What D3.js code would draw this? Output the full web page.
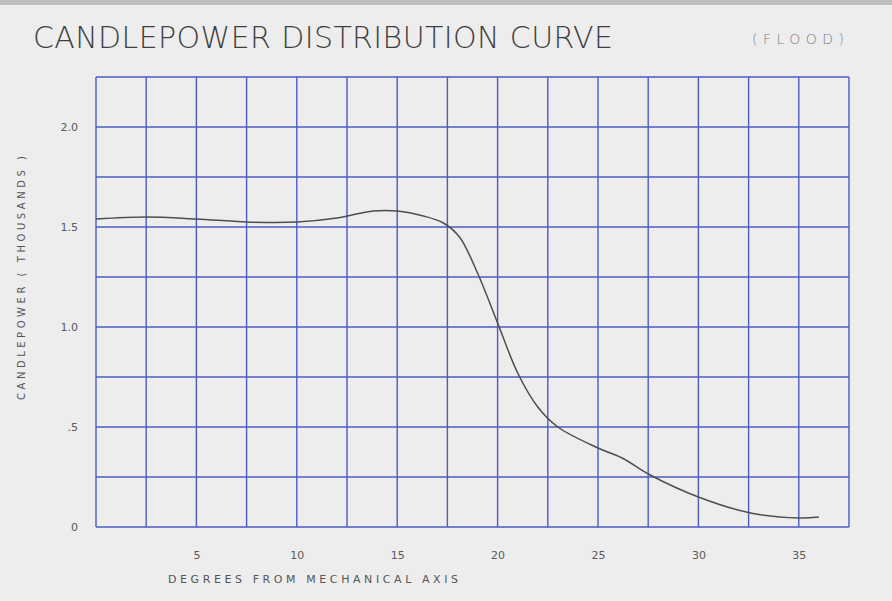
<!DOCTYPE html>
<html>
  <head>
    <style>
      body { margin: 0; background: #ededed; }
      svg { display: block; }
      .grid line { stroke: #4c5bc0; stroke-width: 1.4px; }
      .lbl { font-family: "DejaVu Sans", sans-serif; fill: #555; }
    </style>
  </head>
  <body>
    <script src="https://d3js.org/d3.v7.min.js"></script>
    <script>
    var width = 892, height = 601;

    // values (degrees from axis -> thousands of candlepower)
    var degrees     = [0,    2.5,  5,    7.5,   10,    12,    13.8, 15,   16.3,  17.3, 18.1, 19,   20,   21,   22,   23,   25,    26.2,  27.6, 30,   32.6, 35,    36];
    var candlepower = [1.54, 1.55, 1.54, 1.525, 1.525, 1.545, 1.58, 1.58, 1.555, 1.52, 1.45, 1.27, 1.02, 0.77, 0.60, 0.50, 0.395, 0.345, 0.26, 0.15, 0.07, 0.045, 0.05];

    var xTickLabels = [5, 10, 15, 20, 25, 30, 35];
    var yTickLabels = [0, 0.5, 1.0, 1.5, 2.0];

    var svg = d3.select("body")
        .append("svg")
        .attr("width", width)
        .attr("height", height);

    svg.append("rect").attr("x", 0).attr("y", 0).attr("width", width).attr("height", height).attr("fill", "#ededed");
    svg.append("rect").attr("x", 0).attr("y", 0).attr("width", width).attr("height", 5).attr("fill", "#bdbdbd");

    var x = d3.scaleLinear().domain([0, 37.5]).range([96, 849]);
    var y = d3.scaleLinear().domain([0, 2.25]).range([527, 77]);

    // grid every 2.5 degrees and every .25 thousand
    var grid = svg.append("g").attr("class", "grid");
    grid.selectAll(".v").data(d3.range(0, 37.51, 2.5))
      .enter().append("line")
        .attr("x1", function(d) { return x(d); })
        .attr("x2", function(d) { return x(d); })
        .attr("y1", y(0))
        .attr("y2", y(2.25));
    grid.selectAll(".h").data(d3.range(0, 2.26, 0.25))
      .enter().append("line")
        .attr("x1", x(0))
        .attr("x2", x(37.5))
        .attr("y1", function(d) { return y(d); })
        .attr("y2", function(d) { return y(d); });

    // tick labels
    var xAxis = svg.append("g")
        .attr("transform", "translate(0," + (y(0) + 24) + ")")
        .call(d3.axisBottom(x).tickValues(xTickLabels).tickSize(0).tickPadding(0));
    xAxis.select(".domain").remove();
    xAxis.selectAll("text").style("font-size", "11px").style("font-family", "DejaVu Sans").attr("fill", "#5a5a5a");

    var yAxis = svg.append("g")
        .attr("transform", "translate(78,0)")
        .call(d3.axisLeft(y).tickValues(yTickLabels).tickSize(0).tickPadding(0)
          .tickFormat(function(d) { return d === 0 ? "0" : d < 1 ? ".5" : d3.format(".1f")(d); }));
    yAxis.select(".domain").remove();
    yAxis.selectAll("text").style("font-size", "11px").style("font-family", "DejaVu Sans").attr("fill", "#5a5a5a");

    // the curve
    var line = d3.line()
        .x(function(d, i) { return x(degrees[i]); })
        .y(function(d) { return y(d); })
        .curve(d3.curveCatmullRom.alpha(0.5));

    svg.append("path")
        .datum(candlepower)
        .attr("d", line)
        .attr("fill", "none")
        .attr("stroke", "#4e4e4e")
        .attr("stroke-width", 1.5);

    // titles
    svg.append("text")
        .attr("class", "lbl")
        .attr("x", 33).attr("y", 48)
        .attr("textLength", 580)
        .attr("lengthAdjust", "spacing")
        .style("font-size", "30px")
        .style("font-weight", 200)
        .style("fill", "#3f3f3f")
        .text("CANDLEPOWER DISTRIBUTION CURVE");

    svg.append("text")
        .attr("class", "lbl")
        .attr("x", 752).attr("y", 44)
        .attr("textLength", 92)
        .attr("lengthAdjust", "spacing")
        .style("font-size", "14px")
        .style("font-weight", 200)
        .style("fill", "#7a7c8a")
        .text("(FLOOD)");

    svg.append("text")
        .attr("class", "lbl")
        .attr("x", 168).attr("y", 583)
        .attr("textLength", 290)
        .attr("lengthAdjust", "spacing")
        .style("font-size", "11px")
        .text("DEGREES  FROM  MECHANICAL  AXIS");

    svg.append("text")
        .attr("class", "lbl")
        .attr("transform", "translate(25,400) rotate(-90)")
        .attr("textLength", 244)
        .attr("lengthAdjust", "spacing")
        .style("font-size", "10px")
        .text("CANDLEPOWER  ( THOUSANDS )");
    </script>
  </body>
</html>
